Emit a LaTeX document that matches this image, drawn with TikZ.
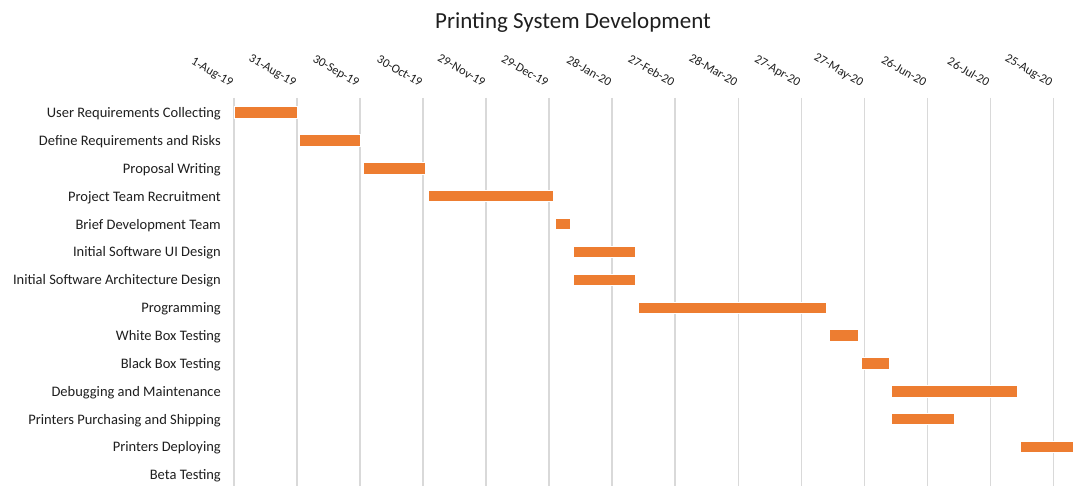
\documentclass[tikz,border=0pt]{standalone}
\usepackage{fontspec}
\setmainfont{Carlito}
\definecolor{barorange}{HTML}{ED7D31}
\definecolor{gridgray}{HTML}{D9D9D9}
\definecolor{txt}{HTML}{1F1F1F}
\begin{document}
\begin{tikzpicture}[x=1pt,y=-1pt,
  gridline/.style={draw=gridgray,line width=1.3pt},
  taskbar/.style={fill=barorange,draw=white,line width=0.4pt},
  tasklabel/.style={anchor=base east,inner sep=0pt,font=\fontsize{14.5}{17}\selectfont,text=txt},
  datelabel/.style={anchor=base east,inner sep=0pt,rotate=-30,font=\fontsize{12.4}{14}\selectfont,text=txt},
  charttitle/.style={anchor=base,inner sep=0pt,font=\fontsize{23}{27}\selectfont,text=txt}]
\useasboundingbox (0,0) rectangle (1073,486);
\fill[white] (0,0) rectangle (1073,486);
% title
\node[charttitle] (title) at (573,28.5) {Printing System Development};
% grid and dates
\foreach \d [count=\k from 0] in {1-Aug-19,31-Aug-19,30-Sep-19,30-Oct-19,29-Nov-19,29-Dec-19,28-Jan-20,27-Feb-20,28-Mar-20,27-Apr-20,27-May-20,26-Jun-20,26-Jul-20,25-Aug-20}{
  \pgfmathsetmacro{\gx}{234+63.02*\k}
  \draw[gridline] (\gx,98) -- (\gx,486);
  \node[datelabel] (date\k) at (\gx-3.5,87) {\d};
}
% task labels
\foreach \t [count=\i from 0] in {User Requirements Collecting,Define Requirements and Risks,Proposal Writing,Project Team Recruitment,Brief Development Team,Initial Software UI Design,Initial Software Architecture Design,Programming,White Box Testing,Black Box Testing,Debugging and Maintenance,Printers Purchasing and Shipping,Printers Deploying,Beta Testing}{
  \pgfmathsetmacro{\ty}{117.6+27.86*\i}
  \node[tasklabel] (task\i) at (221,\ty) {\t};
}
% bars: start, end, row
\foreach \a/\b/\i in {234/297.5/0,299/360.5/1,363/425/2,428/553.5/3,555.5/570/4,573/635/5,573/635/6,638/826/7,829/858/8,861/889.5/9,891.5/1017/10,891.5/954.5/11,1020/1075/12}{
  \pgfmathsetmacro{\cy}{112.4+27.86*\i}
  \draw[taskbar] (\a,\cy-5.7) rectangle (\b,\cy+5.7);
}
\end{tikzpicture}
\end{document}
